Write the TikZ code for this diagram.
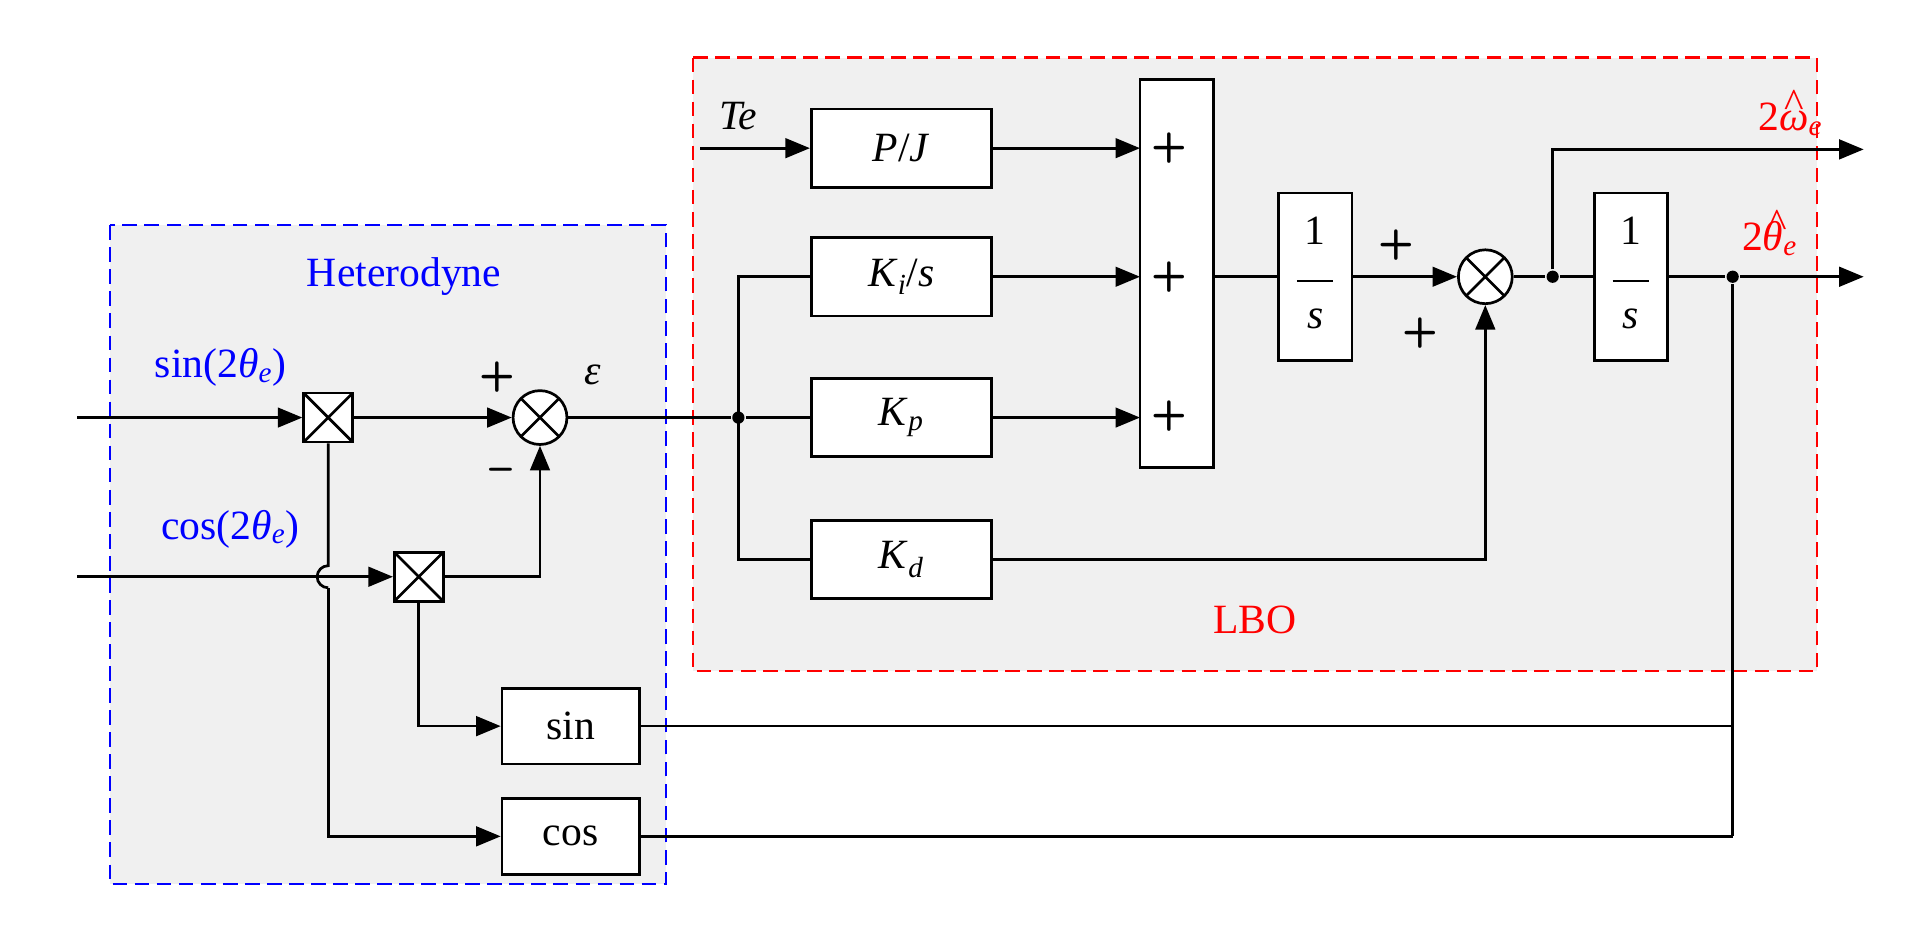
\documentclass[tikz,border=0pt]{standalone}
\usepackage{fontspec}
\setmainfont{Liberation Serif}
\usetikzlibrary{arrows.meta}
\newcommand{\frs}{\begin{tabular}{@{}c@{}}1\\[-10pt]\rule{30pt}{1.5pt}\\[-2pt]\textit{s}\end{tabular}}
\newcommand{\hatg}[1]{\makebox[0pt][l]{\hspace{0.12em}\raisebox{0.32em}{\textasciicircum}}\textit{#1}}
\begin{document}
\begin{tikzpicture}[x=1pt,y=-1pt,line width=2.2pt,
  >={Triangle[length=20pt,width=16pt]},
  every node/.style={font=\fontsize{34}{40}\selectfont},
  blk/.style={draw,fill=white,minimum width=147pt,minimum height=64pt,inner sep=0pt},
  mult/.style={draw,fill=white,minimum size=40pt,inner sep=0pt,
    path picture={\draw (path picture bounding box.south west)--(path picture bounding box.north east)
      (path picture bounding box.north west)--(path picture bounding box.south east);}},
  sumc/.style={draw,fill=white,circle,minimum size=44pt,inner sep=0pt,
    path picture={\draw ([shift={(-45:22pt)}]path picture bounding box.center)--([shift={(135:22pt)}]path picture bounding box.center)
      ([shift={(45:22pt)}]path picture bounding box.center)--([shift={(-135:22pt)}]path picture bounding box.center);}},
  dot/.style={circle,fill,inner sep=0pt,minimum size=10pt},
  pl/.style={font=\fontsize{34}{40}\selectfont\sffamily\bfseries}]
\useasboundingbox (0,0) rectangle (1568,772);
\draw[blue,dashed,fill=gray!12,line width=1.8pt,dash pattern=on 12pt off 6pt] (90,184) rectangle (544,722);
\draw[red,dashed,fill=gray!12,line width=1.8pt,dash pattern=on 12pt off 6pt] (566,47) rectangle (1484,548);
\node[blue] (het) at (330,226) {Heterodyne};
\node[red] (lbo) at (1025,506) {LBO};
\node[blue] (sinl) at (180,300) {sin(2\textit{θ}\textsubscript{\textit{e}})};
\node[blue] (cosl) at (188,432) {cos(2\textit{θ}\textsubscript{\textit{e}})};
\coordinate (in1) at (63,341);
\coordinate (in2) at (63,471);
\node[mult] (m1) at (268,341) {};
\node[mult] (m2) at (342,471) {};
\node[sumc] (s1) at (441,341) {};
\node[pl] at (406,308) {+};
\node[pl] at (409,388) {--};
\node at (484,306) {\textit{ε}};
\node[blk,minimum width=112pt,minimum height=62pt] (sinb) at (466,593) {sin};
\node[blk,minimum width=112pt,minimum height=62pt] (cosb) at (466,683) {cos};
\draw[->] (in1) -- (m1);
\draw[->] (m1) -- (s1);
\draw[->] (in2) -- (m2);
\draw[->] (m2.east) -| (s1.south);
\draw (m1.south) -- (268,462) arc[start angle=-90,end angle=90,radius=-9pt];
\draw[->] (268,480) |- (cosb.west);
\draw[->] (m2.south) |- (sinb.west);
\node[dot] (b1) at (603,341) {};
\draw (s1) -- (b1);
\node[blk] (pj) at (736,121) {\textit{P}/\textit{J}};
\node[blk] (ki) at (736,226) {\textit{K}\textsubscript{\textit{i}}/\textit{s}};
\node[blk] (kp) at (736,341) {\textit{K}\textsubscript{\textit{p}}};
\node[blk] (kd) at (736,457) {\textit{K}\textsubscript{\textit{d}}};
\draw (b1) -- (kp.west);
\draw (ki.west) -| (603,457) -- (kd.west);
\coordinate (te) at (572,121);
\node at (603,95) {\textit{Te}};
\draw[->] (te) -- (pj);
\node[draw,fill=white,minimum width=60pt,minimum height=317pt,inner sep=0pt] (sum) at (961,223.5) {};
\draw[->] (pj.east) -- (931,121);
\draw[->] (ki.east) -- (931,226);
\draw[->] (kp.east) -- (931,341);
\node[pl] at (955,121) {+};
\node[pl] at (955,226) {+};
\node[pl] at (955,340) {+};
\node[draw,fill=white,minimum width=60pt,minimum height=137pt,inner sep=0pt] (i1) at (1074,226) {\frs};
\draw (991,226) -- (i1.west);
\node[sumc] (s2) at (1213,226) {};
\draw[->] (i1) -- (s2);
\node[pl] at (1140,200) {+};
\node[pl] at (1160,272) {+};
\draw[->] (kd.east) -| (s2.south);
\node[dot] (b2) at (1268,226) {};
\node[draw,fill=white,minimum width=60pt,minimum height=137pt,inner sep=0pt] (i2) at (1332,226) {\frs};
\draw (s2) -- (b2) -- (i2);
\coordinate (o1) at (1522,122);
\coordinate (o2) at (1522,226);
\draw[->] (b2) |- (o1);
\node[dot] (b3) at (1415,226) {};
\draw (i2) -- (b3);
\draw[->] (b3) -- (o2);
\node[red] at (1462,92) {2\hatg{ω}\textsubscript{\textit{e}}};
\node[red] at (1445,190) {2\hatg{θ}\textsubscript{\textit{e}}};
\draw (b3) -- (cosb.east -| b3);
\draw (sinb.east) -- (sinb.east -| b3);
\draw (cosb.east) -- (cosb.east -| b3);
\end{tikzpicture}
\end{document}
